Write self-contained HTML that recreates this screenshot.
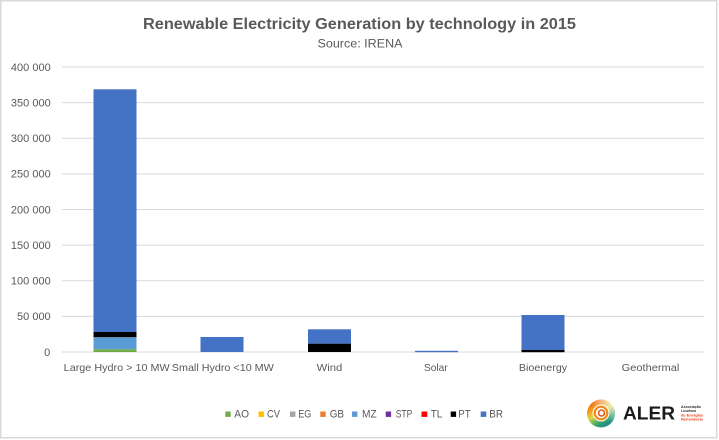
<!DOCTYPE html>
<html><head><meta charset="utf-8"><style>
html,body{margin:0;padding:0;background:#fff;}
svg{display:block;}
text{font-family:"Liberation Sans",sans-serif;}
</style></head><body>
<svg width="719" height="440" viewBox="0 0 719 440" xmlns="http://www.w3.org/2000/svg">
<defs>
<linearGradient id="lg" x1="0" y1="0" x2="0.6" y2="1">
<stop offset="0" stop-color="#e84a1c"/>
<stop offset="0.35" stop-color="#f39a1e"/>
<stop offset="0.55" stop-color="#d8d84a"/>
<stop offset="0.8" stop-color="#3aa66a"/>
<stop offset="1" stop-color="#1f8a8a"/>
</linearGradient>
<linearGradient id="lg2" x1="1" y1="0" x2="0" y2="1">
<stop offset="0" stop-color="#ffffff" stop-opacity="0.9"/>
<stop offset="0.5" stop-color="#ffffff" stop-opacity="0"/>
</linearGradient>
</defs>
<rect x="0" y="0" width="719" height="440" fill="#fff"/>
<rect x="0.75" y="0.75" width="716" height="437" fill="none" stroke="#d9d9d9" stroke-width="1.5"/>

<!-- title -->
<text x="359.5" y="29" font-size="16" font-weight="bold" fill="#595959" text-anchor="middle" textLength="433" lengthAdjust="spacingAndGlyphs">Renewable Electricity Generation by technology in 2015</text>
<text x="360" y="47.3" font-size="11.5" fill="#595959" text-anchor="middle" textLength="85" lengthAdjust="spacingAndGlyphs">Source: IRENA</text>

<!-- gridlines -->
<g stroke="#d9d9d9" stroke-width="1">
<line x1="62" y1="67" x2="704" y2="67"/>
<line x1="62" y1="102.6" x2="704" y2="102.6"/>
<line x1="62" y1="138.3" x2="704" y2="138.3"/>
<line x1="62" y1="173.9" x2="704" y2="173.9"/>
<line x1="62" y1="209.5" x2="704" y2="209.5"/>
<line x1="62" y1="245.1" x2="704" y2="245.1"/>
<line x1="62" y1="280.8" x2="704" y2="280.8"/>
<line x1="62" y1="316.4" x2="704" y2="316.4"/>
<line x1="62" y1="352" x2="704" y2="352"/>
</g>

<!-- y labels -->
<g font-size="11" fill="#595959" text-anchor="end">
<text x="50.7" y="70.8">400 000</text>
<text x="50.7" y="106.4">350 000</text>
<text x="50.7" y="142.1">300 000</text>
<text x="50.7" y="177.7">250 000</text>
<text x="50.7" y="213.3">200 000</text>
<text x="50.7" y="248.9">150 000</text>
<text x="50.7" y="284.6">100 000</text>
<text x="50.7" y="320.2">50 000</text>
<text x="50.2" y="355.8">0</text>
</g>

<!-- bars -->
<!-- Large hydro -->
<rect x="93.5" y="89.3" width="43" height="242.7" fill="#4472c4"/>
<rect x="93.5" y="332" width="43" height="5.3" fill="#000"/>
<rect x="93.5" y="337.3" width="43" height="12" fill="#5b9bd5"/>
<rect x="93.5" y="349.3" width="43" height="2.7" fill="#70ad47"/>
<!-- Small hydro -->
<rect x="200.5" y="337" width="43" height="15" fill="#4472c4"/>
<!-- Wind -->
<rect x="308" y="329.3" width="43" height="14.4" fill="#4472c4"/>
<rect x="308" y="343.7" width="43" height="8.3" fill="#000"/>
<!-- Solar -->
<rect x="415" y="350.8" width="43" height="1.4" fill="#4472c4"/>
<!-- Bioenergy -->
<rect x="521.5" y="315" width="43" height="35" fill="#4472c4"/>
<rect x="521.5" y="350" width="43" height="2.2" fill="#000"/>

<!-- x labels -->
<g font-size="10.5" fill="#595959" text-anchor="middle">
<text x="116.7" y="371" textLength="106" lengthAdjust="spacingAndGlyphs">Large Hydro &gt; 10 MW</text>
<text x="222.8" y="371" textLength="102" lengthAdjust="spacingAndGlyphs">Small Hydro &lt;10 MW</text>
<text x="329.5" y="371" textLength="25.7" lengthAdjust="spacingAndGlyphs">Wind</text>
<text x="435.8" y="371" textLength="23.7" lengthAdjust="spacingAndGlyphs">Solar</text>
<text x="543" y="371" textLength="48.3" lengthAdjust="spacingAndGlyphs">Bioenergy</text>
<text x="650.5" y="371" textLength="57.6" lengthAdjust="spacingAndGlyphs">Geothermal</text>
</g>

<!-- legend -->
<g font-size="11" fill="#595959">
<rect x="225.3" y="411.5" width="5.4" height="5.4" fill="#70ad47"/>
<text x="234.3" y="417.3" textLength="14.7" lengthAdjust="spacingAndGlyphs">AO</text>
<rect x="258.5" y="411.5" width="5.4" height="5.4" fill="#ffc000"/>
<text x="267" y="417.3" textLength="13" lengthAdjust="spacingAndGlyphs">CV</text>
<rect x="290" y="411.5" width="5.4" height="5.4" fill="#a5a5a5"/>
<text x="298.3" y="417.3" textLength="13" lengthAdjust="spacingAndGlyphs">EG</text>
<rect x="320.3" y="411.5" width="5.4" height="5.4" fill="#ed7d31"/>
<text x="329.7" y="417.3" textLength="14.3" lengthAdjust="spacingAndGlyphs">GB</text>
<rect x="352" y="411.5" width="5.4" height="5.4" fill="#5b9bd5"/>
<text x="362" y="417.3" textLength="14.7" lengthAdjust="spacingAndGlyphs">MZ</text>
<rect x="385.7" y="411.5" width="5.4" height="5.4" fill="#7030a0"/>
<text x="395.7" y="417.3" textLength="16.6" lengthAdjust="spacingAndGlyphs">STP</text>
<rect x="421.5" y="411.5" width="5.8" height="5.4" fill="#ff0000"/>
<text x="430.7" y="417.3" textLength="11.6" lengthAdjust="spacingAndGlyphs">TL</text>
<rect x="450.7" y="411.5" width="5.4" height="5.4" fill="#000000"/>
<text x="458.3" y="417.3" textLength="12.4" lengthAdjust="spacingAndGlyphs">PT</text>
<rect x="480.7" y="411.5" width="5.6" height="5.4" fill="#4472c4"/>
<text x="489.3" y="417.3" textLength="13.7" lengthAdjust="spacingAndGlyphs">BR</text>
</g>

<!-- logo -->
<g>
<circle cx="601" cy="413.5" r="14" fill="url(#lg)"/>
<circle cx="601" cy="413.5" r="14" fill="url(#lg2)"/>
<circle cx="601" cy="413" r="8.5" fill="#fff"/>
<circle cx="601" cy="413" r="6.3" fill="none" stroke="#f08a1c" stroke-width="2.2"/>
<circle cx="601.5" cy="413" r="3" fill="none" stroke="#e85a1c" stroke-width="1.6"/>
<text x="623" y="419.3" font-size="18" font-weight="bold" fill="#1a1a1a" textLength="52" lengthAdjust="spacingAndGlyphs">ALER</text>
<g font-size="3.6" font-weight="bold">
<text x="681" y="408" fill="#333" textLength="20" lengthAdjust="spacingAndGlyphs">Associação</text>
<text x="681" y="412" fill="#333" textLength="15" lengthAdjust="spacingAndGlyphs">Lusófona</text>
<text x="681" y="416.3" fill="#e8401c" textLength="22" lengthAdjust="spacingAndGlyphs">de Energias</text>
<text x="681" y="420.5" fill="#e8401c" textLength="22" lengthAdjust="spacingAndGlyphs">Renováveis</text>
</g>
</g>
</svg>
</body></html>
